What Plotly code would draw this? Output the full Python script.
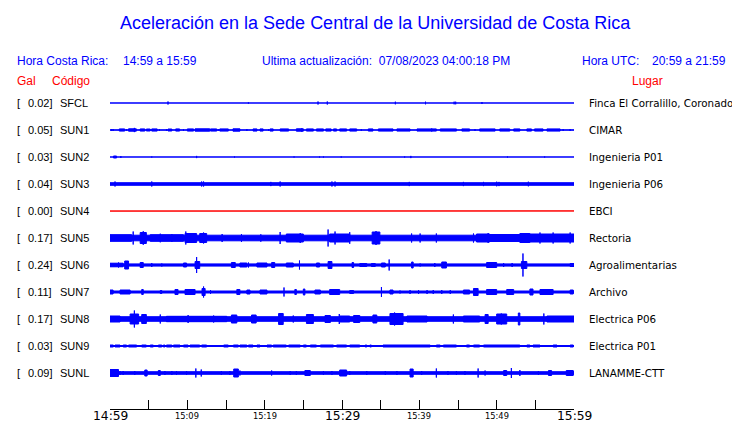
import plotly.graph_objects as go

# ---------------- data ----------------
codes = ["SFCL", "SUN1", "SUN2", "SUN3", "SUN4", "SUN5", "SUN6", "SUN7", "SUN8", "SUN9", "SUNL"]
gal = ["0.02", "0.05", "0.03", "0.04", "0.00", "0.17", "0.24", "0.11", "0.17", "0.03", "0.09"]
places = ["Finca El Corralillo, Coronado", "CIMAR", "Ingenieria P01", "Ingenieria P06", "EBCI",
          "Rectoria", "Agroalimentarias", "Archivo", "Electrica P06", "Electrica P01", "LANAMME-CTT"]

# background (quiet) half-amplitude of each record, in trace units
base_amp = [0.6, 0.75, 0.6, 1.8, 0.5, 3.3, 1.6, 1.5, 2.8, 1.0, 1.8]

# events: (start minute, end minute, half-amplitude); minutes after 14:59
ev_SFCL = [(7.5, 7.5, 2), (17.9, 17.9, 1.2), (26.9, 26.9, 2), (28.1, 28.1, 2), (36.9, 36.9, 1.8),
           (40.8, 40.8, 1.8), (44.5, 44.5, 1.8), (44.7, 44.7, 1.8), (48.1, 48.1, 1.5)]
ev_SUN1 = [(0.2, 0.2, 1.5), (0.4, 0.4, 1.5), (1.2, 1.9, 1.6), (2.15, 2.15, 1.5), (2.4, 3.4, 1.7),
           (3.15, 3.15, 2.6), (3.9, 4.5, 1.6), (4.7, 5.2, 1.5), (5.4, 6.1, 1.6), (6.4, 6.4, 1.5),
           (7.3, 7.3, 1.5), (7.5, 8.0, 1.5), (8.5, 9.0, 1.6), (9.5, 9.5, 1.4), (10.0, 10.8, 1.6),
           (11.0, 12.9, 1.7), (13.0, 13.8, 1.6), (14.0, 14.0, 1.4), (14.2, 15.3, 1.6), (15.9, 16.8, 1.7),
           (17.7, 17.7, 1.5), (18.5, 19.0, 1.6), (19.4, 19.8, 1.6), (20.5, 20.5, 1.4), (20.7, 21.1, 1.6),
           (22.0, 23.1, 1.6), (24.1, 25.0, 1.7), (24.8, 24.8, 2.2), (25.4, 26.3, 1.6), (26.7, 27.6, 1.6),
           (27.9, 28.6, 1.6), (28.9, 29.3, 1.6), (29.7, 30.6, 1.6), (31.0, 31.9, 1.6), (32.5, 32.5, 1.5),
           (33.4, 34.0, 1.6), (34.7, 36.6, 1.6), (37.1, 38.8, 1.6), (39.7, 42.2, 1.6), (41.6, 41.6, 2.0),
           (42.7, 44.8, 1.6), (45.5, 46.5, 1.6), (47.2, 47.2, 1.5), (47.8, 49.8, 1.6), (50.4, 51.7, 1.6),
           (52.2, 53.0, 1.6), (53.9, 54.5, 1.6), (54.9, 56.0, 1.6), (56.5, 58.2, 1.6), (58.6, 58.6, 1.5),
           (59.5, 59.5, 1.5)]
ev_SUN2 = [(0.45, 0.85, 1.5), (1.4, 1.4, 1.5), (5.4, 5.4, 1.0), (11.2, 11.2, 1.6), (16.1, 16.1, 1.0),
           (23.8, 23.8, 1.0), (27.1, 27.1, 1.0), (27.6, 27.6, 1.0), (29.9, 29.9, 1.0), (38.1, 38.1, 1.0),
           (38.9, 38.9, 1.6), (51.4, 51.4, 1.0), (56.2, 56.2, 1.0)]
ev_SUN3 = [(0.65, 0.65, 3), (5.4, 5.4, 3), (11.85, 11.85, 3), (12.1, 12.1, 3), (20.8, 20.8, 2.6),
           (22.0, 22.0, 3), (28.7, 28.7, 3), (29.1, 29.1, 3), (38.7, 38.7, 2.6), (45.7, 45.7, 2.6),
           (48.3, 48.3, 2.6), (50.0, 50.0, 2.8), (50.3, 50.3, 2.6), (54.1, 54.1, 2.8)]
ev_SUN4 = []
ev_SUN5 = [(0, 2.8, 3.8), (3.0, 3.0, 7), (3.9, 4.7, 6), (4.3, 4.3, 7.3), (5.2, 9.5, 3.8), (6.5, 6.5, 4.8),
           (8.0, 8.0, 4.5), (9.7, 11.2, 5), (9.8, 9.8, 7), (11.6, 12.5, 5), (12.1, 12.1, 6), (14.5, 14.5, 4.5),
           (17.0, 17.0, 4.5), (19.5, 19.5, 4.2), (22.0, 22.0, 6.5), (22.8, 25.0, 4.5), (24.6, 24.6, 5.5),
           (28.2, 28.2, 9), (28.4, 31.0, 4.5), (29.1, 29.1, 7), (31.0, 31.0, 6.3), (33.9, 34.9, 6.5),
           (34.4, 34.4, 7.5), (39.0, 39.0, 5), (40.1, 40.1, 5), (42.2, 42.2, 5), (47.0, 47.0, 5),
           (47.4, 49.1, 4.5), (48.9, 48.9, 5.5), (49.1, 53.0, 4), (53.0, 54.3, 5), (54.3, 60, 4.5),
           (55.6, 55.6, 6), (57.3, 57.3, 6), (59.5, 59.5, 6)]
ev_SUN6 = [(0, 1.7, 2.3), (1.1, 1.1, 3), (1.9, 2.4, 4.5), (2.15, 2.15, 4.5), (3.9, 4.3, 3), (5.4, 5.4, 2.5),
           (6.7, 6.7, 2), (9.5, 9.9, 2.5), (11.0, 11.6, 4), (11.2, 11.2, 8.5), (15.7, 16.2, 3), (16.8, 17.7, 2.5),
           (17.9, 17.9, 3), (19.0, 20.3, 2.5), (20.9, 21.3, 3), (22.8, 23.7, 2.5), (24.5, 24.5, 5),
           (26.7, 27.1, 2.5), (28.2, 28.7, 4), (31.3, 31.5, 3), (32.3, 33.2, 2), (33.8, 34.3, 2),
           (35.1, 35.6, 2.5), (36.1, 36.1, 6), (39.0, 39.2, 3.5), (40.1, 40.1, 2), (42.0, 42.0, 2.5),
           (42.9, 43.5, 3.5), (48.7, 50.0, 3), (50.9, 50.9, 2.5), (52.0, 52.0, 2.5), (53.4, 53.4, 12),
           (53.2, 53.9, 4), (59.5, 60, 2)]
ev_SUN7 = [(0, 0.4, 2.5), (1.3, 2.6, 2.5), (4.1, 4.3, 3), (6.5, 6.7, 2), (8.4, 8.8, 3), (9.7, 11.0, 3),
           (11.9, 12.3, 4), (12.1, 12.1, 6), (13.0, 13.0, 2.5), (16.4, 16.8, 3), (17.7, 18.1, 2.5),
           (19.4, 20.3, 2.5), (22.5, 22.5, 5), (23.9, 24.1, 3), (25.0, 25.2, 3.5), (26.5, 27.2, 2.5),
           (28.4, 29.7, 3), (31.0, 31.5, 2), (35.1, 35.1, 5.5), (36.2, 36.6, 2.5), (37.5, 37.5, 2),
           (38.8, 38.8, 2.5), (39.9, 39.9, 2.5), (41.0, 41.0, 2.5), (41.8, 41.8, 2.5), (42.9, 42.9, 2.5),
           (44.0, 44.0, 2.5), (45.7, 46.5, 2.5), (47.0, 47.6, 4), (48.7, 50.0, 3), (51.3, 52.2, 3),
           (54.3, 54.7, 3.5), (55.6, 57.3, 3), (59.5, 59.9, 2.5)]
ev_SUN8 = [(0, 1.3, 3.5), (2.6, 3.7, 5.5), (3.15, 3.15, 9), (4.1, 4.7, 5), (6.5, 6.5, 5), (7.3, 15.1, 3.2),
           (10.1, 10.1, 4.5), (13.4, 13.4, 4), (15.7, 16.4, 4.5), (18.3, 18.9, 4.5), (21.8, 22.4, 6),
           (22.0, 22.0, 6.5), (23.7, 23.7, 4), (25.4, 26.3, 5), (27.8, 28.5, 4), (29.65, 29.65, 5.5),
           (29.7, 31.0, 3.5), (31.5, 32.3, 4), (34.0, 34.5, 4.5), (36.2, 37.9, 6), (36.8, 36.8, 7),
           (37.7, 37.7, 6.5), (38.4, 41.0, 3.5), (44.4, 44.4, 5), (45.7, 47.8, 3.5), (48.5, 48.9, 5),
           (50.0, 51.3, 5.5), (50.6, 50.6, 6), (52.8, 53.0, 6.5), (56.1, 56.1, 6), (56.5, 60, 3.5)]
ev_SUN9 = [(0, 0.43, 1.5), (0.65, 1.3, 1.5), (1.7, 2.15, 1.5), (2.4, 3.45, 1.5), (4.1, 4.7, 1.5),
           (5.2, 5.6, 1.5), (6.25, 6.7, 1.5), (6.9, 7.1, 1.5), (7.3, 8.0, 1.5), (8.2, 9.05, 1.5),
           (9.5, 10.1, 1.5), (10.35, 11.6, 1.5), (11.85, 12.5, 1.5), (14.7, 15.3, 1.5), (15.95, 16.6, 1.5),
           (16.8, 17.7, 1.5), (17.9, 18.5, 1.5), (19.0, 19.4, 1.5), (20.3, 20.9, 1.5), (21.1, 22.8, 1.5),
           (23.1, 24.6, 1.5), (25.0, 25.4, 1.5), (25.9, 26.7, 1.5), (27.2, 28.9, 1.5), (29.3, 30.6, 1.5),
           (31.0, 32.3, 1.5), (33.0, 33.2, 1.5), (33.6, 33.8, 1.5), (34.7, 34.7, 1.5), (35.3, 41.4, 1.5),
           (42.2, 42.7, 1.5), (43.1, 44.8, 1.5), (46.1, 46.5, 1.5), (47.0, 47.8, 1.5), (48.3, 53.0, 1.5),
           (53.9, 54.3, 1.5), (54.7, 55.6, 1.5), (56.2, 56.2, 1.5), (57.3, 57.8, 1.5), (58.6, 58.6, 1.5),
           (59.5, 59.9, 1.5)]
ev_SUNL = [(0, 1.1, 4), (1.3, 1.3, 2.5), (1.7, 1.7, 2.5), (3.2, 3.2, 2.5), (4.5, 4.8, 3.5), (6.25, 6.5, 3),
           (7.1, 7.1, 2.5), (8.0, 8.0, 2.5), (8.6, 8.6, 2.5), (9.9, 9.9, 2.5), (11.1, 11.1, 5), (11.8, 11.8, 4),
           (14.4, 14.4, 2.5), (15.5, 15.5, 2.5), (16.0, 16.6, 4.5), (16.8, 16.8, 3), (20.9, 20.9, 3),
           (23.3, 23.3, 2.5), (24.1, 24.1, 2.5), (25.2, 25.9, 3), (27.6, 27.6, 2.5), (28.7, 28.7, 2.5),
           (29.7, 30.6, 3.5), (31.0, 31.0, 2.5), (33.2, 33.2, 2.5), (35.6, 35.6, 2.5), (37.1, 37.1, 2.5),
           (38.8, 39.2, 4.5), (40.3, 40.3, 2.5), (42.2, 42.2, 5), (43.7, 43.7, 2.5), (44.8, 44.8, 2.5),
           (45.9, 45.9, 2.5), (47.6, 47.6, 5), (48.5, 48.5, 3), (50.9, 51.3, 3), (51.9, 51.9, 5.5),
           (53.0, 53.0, 3.5), (55.4, 55.4, 2.5), (56.7, 57.1, 3), (59.0, 59.9, 3)]

tick_minutes = [0, 5, 10, 15, 20, 25, 30, 35, 40, 45, 50, 55, 60]
label_minutes = [0, 10, 20, 30, 40, 50, 60]
label_text = ["14:59", "15:09", "15:19", "15:29", "15:39", "15:49", "15:59"]
label_major = [True, False, False, True, False, False, True]

title_text = "Aceleración en la Sede Central de la Universidad de Costa Rica"
cr_label, cr_range = "Hora Costa Rica:", "14:59 a 15:59"
upd_label, upd_value = "Ultima actualización:", "07/08/2023 04:00:18 PM"
utc_label, utc_range = "Hora UTC:", "20:59 a 21:59"

events = {"SFCL": ev_SFCL, "SUN1": ev_SUN1, "SUN2": ev_SUN2, "SUN3": ev_SUN3, "SUN4": ev_SUN4,
          "SUN5": ev_SUN5, "SUN6": ev_SUN6, "SUN7": ev_SUN7, "SUN8": ev_SUN8, "SUN9": ev_SUN9,
          "SUNL": ev_SUNL}

# ---------------- layout constants ----------------
PAGE_W, PAGE_H = 740, 423
BODY = 8                      # default page margin around the plot div
W, H = PAGE_W - BODY, PAGE_H - BODY
# plot area in page pixels
PL, PR, PT, PB = 110, 574, 90, 409
ML, MR, MT, MB = PL - BODY, W - (PR - BODY), PT - BODY, H - (PB - BODY)
SPACING = 27
STROKE = 1.0
BLUE = "#0000ff"
RED = "#ff0000"
trace_colors = [BLUE, BLUE, BLUE, BLUE, RED, BLUE, BLUE, BLUE, BLUE, BLUE, BLUE]
LABEL_FONT = "Liberation Sans, Arial, sans-serif"
PLACE_FONT = "DejaVu Sans, sans-serif"

pw = PR - PL
ph = PB - PT


def px_x(px):
    return (px - PL) / pw


def px_y(py):
    return (PB - py) / ph


fig = go.Figure()

t_end = tick_minutes[-1]
for i, code in enumerate(codes):
    off = -SPACING * i
    segs = [(0, t_end, base_amp[i])] + events[code]
    xs, ys = [], []
    for t0, t1, a in segs:
        a = max(a - STROKE / 2, 0.05)
        xs += [t0, t0, t1, t1, t0, None]
        ys += [off - a, off + a, off + a, off - a, off - a, None]
    fig.add_trace(go.Scatter(x=xs, y=ys, mode="lines", fill="toself",
                             fillcolor=trace_colors[i],
                             line=dict(color=trace_colors[i], width=STROKE),
                             hoverinfo="skip", showlegend=False))

annotations = []
# station labels
for i, code in enumerate(codes):
    off = -SPACING * i
    annotations.append(dict(x=px_x(15), xref="paper", y=off, yref="y", text="[", showarrow=False,
                            xanchor="left", yanchor="middle", font=dict(family=LABEL_FONT, size=11, color="black")))
    annotations.append(dict(x=px_x(54), xref="paper", y=off, yref="y", text=gal[i] + "]", showarrow=False,
                            xanchor="right", yanchor="middle", font=dict(family=LABEL_FONT, size=11, color="black")))
    annotations.append(dict(x=px_x(58), xref="paper", y=off, yref="y", text=code, showarrow=False,
                            xanchor="left", yanchor="middle", font=dict(family=LABEL_FONT, size=11, color="black")))
    annotations.append(dict(x=px_x(587), xref="paper", y=off, yref="y", text=places[i], showarrow=False,
                            xanchor="left", yanchor="middle", font=dict(family=PLACE_FONT, size=10.3, color="black")))

# time labels
for m, txt, major in zip(label_minutes, label_text, label_major):
    annotations.append(dict(x=m, xref="x", y=px_y(416), yref="paper", text=txt, showarrow=False,
                            xanchor="center", yanchor="middle",
                            font=dict(family=PLACE_FONT, size=12.3 if major else 8.3, color="black")))

# header
annotations.append(dict(x=px_x(375), xref="paper", y=px_y(23), yref="paper", text=title_text, showarrow=False,
                        xanchor="center", yanchor="middle", font=dict(family=LABEL_FONT, size=18, color=BLUE)))
hdr = [(15, cr_label), (121, cr_range), (260, upd_label + "  " + upd_value), (580, utc_label), (650, utc_range)]
for px, txt in hdr:
    annotations.append(dict(x=px_x(px), xref="paper", y=px_y(61), yref="paper", text=txt, showarrow=False,
                            xanchor="left", yanchor="middle", font=dict(family=LABEL_FONT, size=12, color=BLUE)))
for px, txt in [(15, "Gal"), (50, "Código"), (630, "Lugar")]:
    annotations.append(dict(x=px_x(px), xref="paper", y=px_y(81), yref="paper", text=txt, showarrow=False,
                            xanchor="left", yanchor="middle", font=dict(family=LABEL_FONT, size=12, color=RED)))

fig.update_layout(
    width=W, height=H,
    margin=dict(l=ML, r=MR, t=MT, b=MB, pad=0),
    paper_bgcolor="white", plot_bgcolor="white",
    showlegend=False,
    annotations=annotations,
    xaxis=dict(range=[0, t_end], tickvals=tick_minutes, ticks="inside", ticklen=9, tickwidth=1,
               tickcolor="black", showticklabels=False, showline=True, linecolor="black", linewidth=1,
               showgrid=False, zeroline=False, fixedrange=True),
    yaxis=dict(range=[-SPACING * 10 - (PB - PT - 13 - SPACING * 10), 13], showticklabels=False, ticks="",
               showgrid=False, zeroline=False, showline=False, fixedrange=True),
)

fig.write_html("out.html", config={"displayModeBar": False})
